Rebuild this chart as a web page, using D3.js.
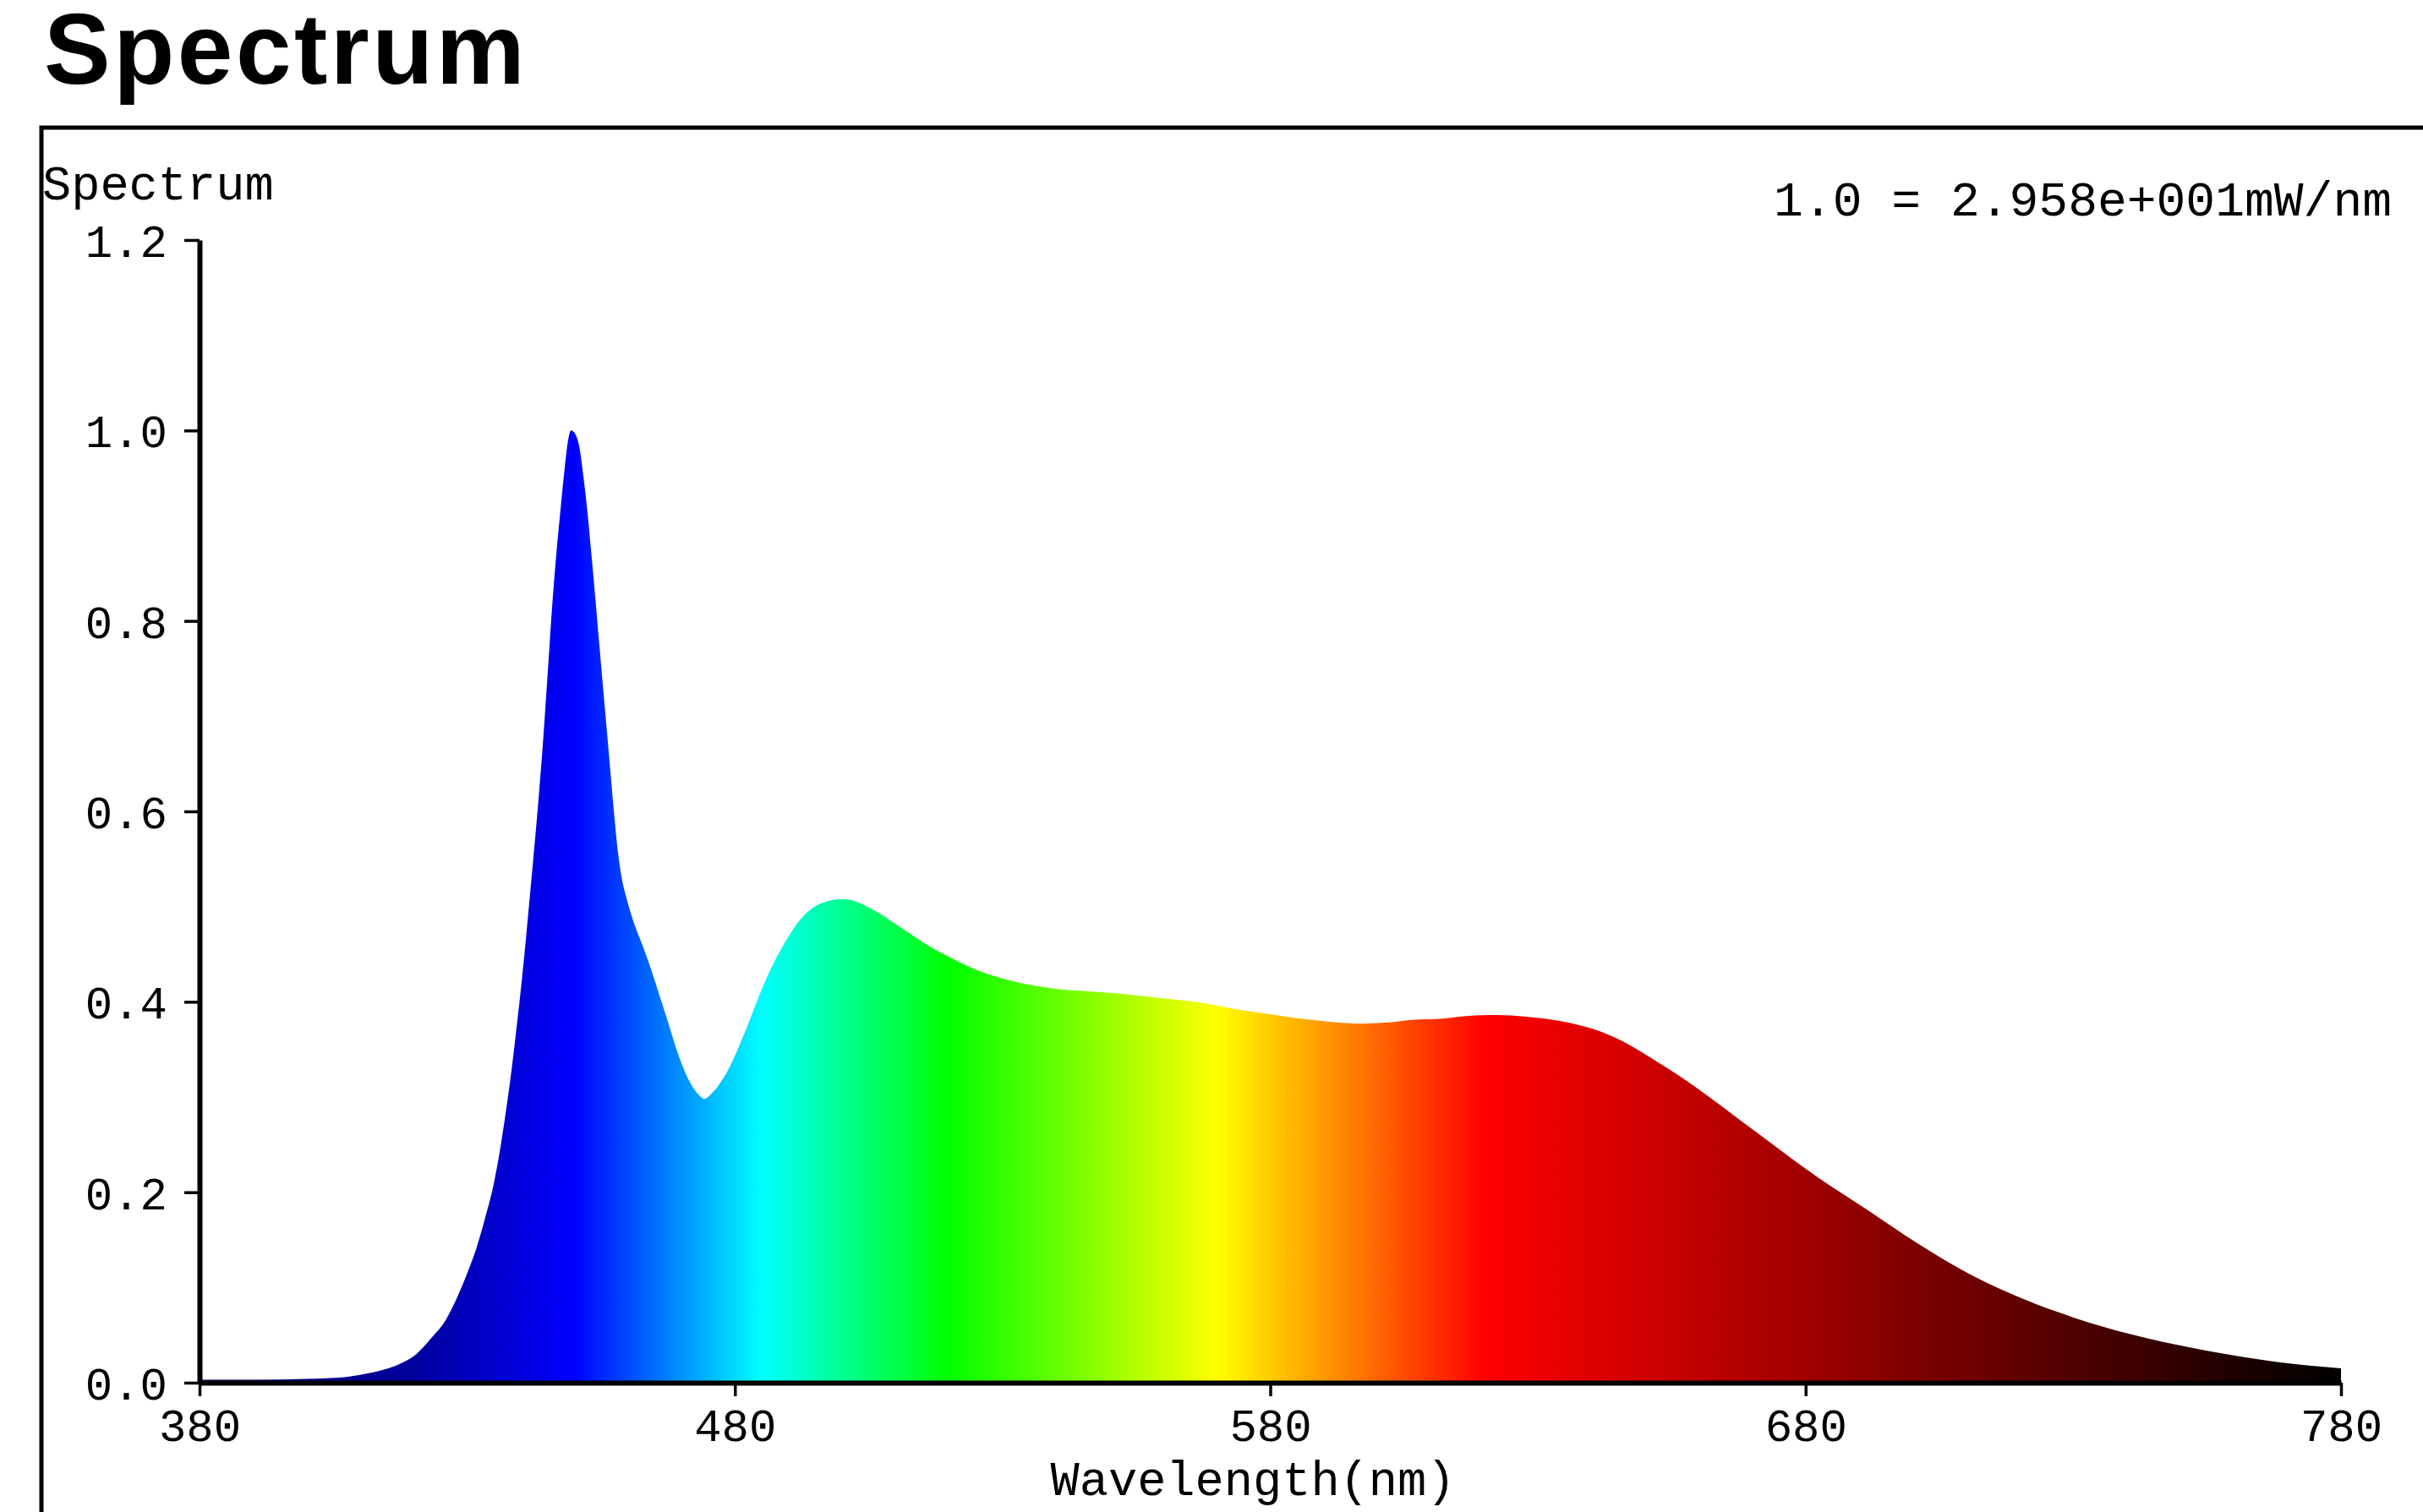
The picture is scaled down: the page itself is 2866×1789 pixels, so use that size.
<!DOCTYPE html>
<html>
<head>
<meta charset="utf-8">
<script src="https://cdn.jsdelivr.net/npm/d3@7"></script>
<style>
  body { margin: 0; background: #fff; }
  svg { display: block; }
</style>
</head>
<body>
<svg id="chart" width="2866" height="1789"></svg>
<script>
// wavelength (nm) and relative spectrum value
var wavelengths = [380, 390, 400, 406, 410, 414, 417.5, 420.5, 423.3, 426, 428, 430, 431.7, 433.3, 435,
    436, 437, 438, 439, 440, 441, 441.8, 442.6, 443.4, 444.2, 445, 445.8, 446.6,
    447.4, 448.2, 448.8, 449.4, 450.2, 450.9, 451.7, 452.5, 453.2, 453.9, 454.6, 455.3, 456, 456.7,
    457.4, 458, 458.8, 459.9, 461.2, 462.7, 464.3, 465.9, 467.5, 469.1, 471.2, 473.3, 474.3, 475.9,
    478.5, 482, 485.6, 489, 493.3, 497.5, 500.4, 505.7, 510.7, 516.4, 520.8, 525.8, 531, 536, 541,
    546, 551, 556, 561, 566, 571, 576, 581, 586, 591, 597, 601.4, 606.4, 611.4, 616.5, 621.5, 626.5,
    631.6, 636.6, 641.6, 646.7, 652, 657, 662, 667, 672, 681.7, 691.4, 701, 711, 720.6,
    730.3, 740, 750, 759.5, 769, 780];
var spectrum = [0.003, 0.003, 0.004, 0.0053, 0.0083, 0.013, 0.020, 0.030, 0.047, 0.066, 0.088, 0.115, 0.141, 0.172, 0.21,
    0.240, 0.276, 0.316, 0.362, 0.412, 0.468, 0.517, 0.566, 0.618, 0.676, 0.742, 0.810, 0.867,
    0.915, 0.960, 0.988, 1.0, 0.996, 0.984, 0.952, 0.912, 0.870, 0.826, 0.780, 0.735, 0.690, 0.645,
    0.600, 0.565, 0.532, 0.506, 0.482, 0.460, 0.435, 0.407, 0.379, 0.350, 0.320, 0.302, 0.298, 0.305,
    0.326, 0.370, 0.421, 0.459, 0.493, 0.506, 0.508, 0.497, 0.479, 0.458, 0.445, 0.432, 0.423, 0.417, 0.413,
    0.411, 0.409, 0.406, 0.403, 0.40, 0.395, 0.39, 0.386, 0.382, 0.379, 0.377, 0.378, 0.381, 0.382, 0.385, 0.386, 0.385,
    0.382, 0.377, 0.369, 0.356, 0.338, 0.320, 0.300, 0.279, 0.258, 0.218, 0.182, 0.146, 0.113, 0.088,
    0.068, 0.052, 0.039, 0.029, 0.021, 0.015];
var xTicks = [380, 480, 580, 680, 780];
var yTicks = [0.0, 0.2, 0.4, 0.6, 0.8, 1.0, 1.2];
var unitNote = "1.0 = 2.958e+001mW/nm";

// colour of the light at each wavelength
var stopWl = [380, 420, 440, 450, 485, 520, 570, 620, 780];
var stopColor = ["#000070", "#00009c", "#0000dd", "#0000ff", "#00ffff", "#00ff00", "#ffff00", "#ff0000", "#000000"];

var mono = "'Liberation Mono', 'Courier New', monospace";
var svg = d3.select("#chart");

var x = d3.scaleLinear().domain([380, 780]).range([236, 2769]);
var y = d3.scaleLinear().domain([0, 1.2]).range([1636, 284]);

// title and frame
svg.append("text")
    .attr("x", 52)
    .attr("y", 99)
    .attr("font-family", "'Liberation Sans', Arial, sans-serif")
    .attr("font-weight", "bold")
    .attr("font-size", 118)
    .attr("letter-spacing", 3.5)
    .text("Spectrum");

svg.append("rect")
    .attr("x", 49)
    .attr("y", 151)
    .attr("width", 3000)
    .attr("height", 1800)
    .attr("fill", "none")
    .attr("stroke", "#000")
    .attr("stroke-width", 5);

// gradient fill
var grad = svg.append("defs").append("linearGradient")
    .attr("id", "rainbow")
    .attr("gradientUnits", "userSpaceOnUse")
    .attr("x1", x(380)).attr("x2", x(780))
    .attr("y1", 0).attr("y2", 0);
grad.selectAll("stop").data(stopWl).enter().append("stop")
    .attr("offset", function(d) { return (d - 380) / 400 })
    .attr("stop-color", function(d, i) { return stopColor[i] });

var area = d3.area()
    .x(function(d) { return x(d) })
    .y0(y(0))
    .y1(function(d, i) { return y(spectrum[i]) })
    .curve(d3.curveMonotoneX);

svg.append("path")
    .datum(wavelengths)
    .attr("d", area)
    .attr("fill", "url(#rainbow)");

// axes
var yAxis = svg.append("g")
    .attr("transform", "translate(" + x(380) + ",0)")
    .call(d3.axisLeft(y).tickValues(yTicks).tickFormat(d3.format(".1f")).tickSize(18).tickSizeOuter(0));
var xAxis = svg.append("g")
    .attr("transform", "translate(0," + y(0) + ")")
    .call(d3.axisBottom(x).tickValues(xTicks).tickFormat(d3.format("d")).tickSize(16).tickSizeOuter(0));

[yAxis, xAxis].forEach(function(g) {
    g.select(".domain").attr("stroke", "#000").attr("stroke-width", 6);
    g.selectAll(".tick line").attr("stroke", "#000").attr("stroke-width", 3.5);
    g.selectAll(".tick text")
        .attr("font-family", mono)
        .attr("font-size", 54)
        .attr("fill", "#000");
});
yAxis.selectAll(".tick text").attr("x", -38).attr("dy", "0.36em");
xAxis.selectAll(".tick text").attr("y", 69).attr("dy", null);

// labels
svg.append("text")
    .attr("x", 50)
    .attr("y", 236)
    .attr("font-family", mono)
    .attr("font-size", 57)
    .text("Spectrum");

svg.append("text")
    .attr("x", 2829)
    .attr("y", 255)
    .attr("text-anchor", "end")
    .attr("font-family", mono)
    .attr("font-size", 58)
    .text(unitNote);

svg.append("text")
    .attr("x", 1482)
    .attr("y", 1769)
    .attr("text-anchor", "middle")
    .attr("font-family", mono)
    .attr("font-size", 57)
    .text("Wavelength(nm)");
</script>
</body>
</html>
